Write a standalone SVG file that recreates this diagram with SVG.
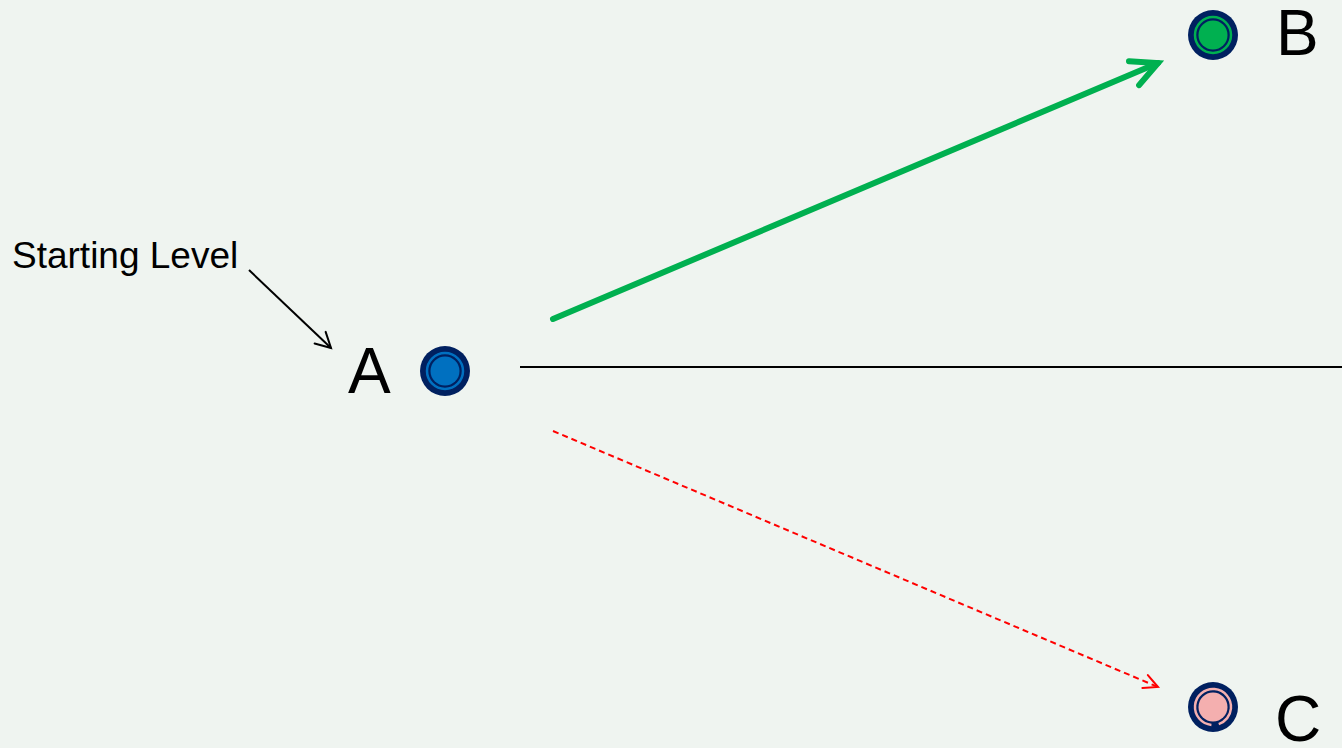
<svg xmlns="http://www.w3.org/2000/svg" width="1342" height="748" viewBox="0 0 1342 748">
<style>
.lbl{font-family:"Liberation Sans",Arial,sans-serif;fill:#000}
.big{font-size:64px}
.small{font-size:37px}
.outer{fill:#002060}
</style>
<defs>
<marker id="mGreen" markerUnits="userSpaceOnUse" orient="auto" overflow="visible" markerWidth="10" markerHeight="10" refX="0" refY="0">
<path d="M -26 -13 L 0 0 L -26 13" fill="none" stroke="#00B050" stroke-width="6" stroke-linecap="round" stroke-linejoin="miter"/>
</marker>
<marker id="mRed" markerUnits="userSpaceOnUse" orient="auto" overflow="visible" markerWidth="10" markerHeight="10" refX="0" refY="0">
<path d="M -14 -7 L 0 0 L -14 7" fill="none" stroke="#FF0000" stroke-width="2" stroke-linecap="round"/>
</marker>
<marker id="mBlack" markerUnits="userSpaceOnUse" orient="auto" overflow="visible" markerWidth="10" markerHeight="10" refX="0" refY="0">
<path d="M -15 -8 L 0 0 L -15 8" fill="none" stroke="#000" stroke-width="2" stroke-linecap="round"/>
</marker>
</defs>
<rect width="1342" height="748" fill="#EFF4F0"/>
<g id="connectors">
<line x1="520" y1="367" x2="1342" y2="367" stroke="#000" stroke-width="2"/>
<line x1="553" y1="319" x2="1158" y2="63" stroke="#00B050" stroke-width="6" stroke-linecap="round" marker-end="url(#mGreen)"/>
<line x1="553" y1="431" x2="1158" y2="687" stroke="#FF0000" stroke-width="2" stroke-dasharray="6,4" marker-end="url(#mRed)"/>
<line x1="249" y1="270" x2="331" y2="348" stroke="#000" stroke-width="2" marker-end="url(#mBlack)"/>
</g>
<g id="label-start">
<text class="lbl small" x="12" y="268">Starting Level</text>
</g>
<g id="node-A">
<circle class="outer" cx="445" cy="371" r="25"/>
<circle cx="445" cy="371" r="18" fill="none" stroke="#0070C0" stroke-width="2.5"/>
<circle cx="445" cy="371" r="14.5" fill="#0070C0"/>
<text class="lbl big" x="348" y="393">A</text>
</g>
<g id="node-B">
<circle class="outer" cx="1213" cy="35" r="25"/>
<circle cx="1213" cy="35" r="18" fill="none" stroke="#00B050" stroke-width="2.5"/>
<circle cx="1213" cy="35" r="14.5" fill="#00B050"/>
<text class="lbl big" x="1276" y="55">B</text>
</g>
<g id="node-C">
<circle class="outer" cx="1213" cy="707" r="25"/>
<circle cx="1213" cy="707" r="18" fill="none" stroke="#F4AFAF" stroke-width="2.5" stroke-dasharray="105,8" transform="rotate(95 1213 707)"/>
<circle cx="1213" cy="707" r="14.5" fill="#F4AFAF"/>
<text class="lbl big" x="1275" y="741">C</text>
</g>
</svg>
